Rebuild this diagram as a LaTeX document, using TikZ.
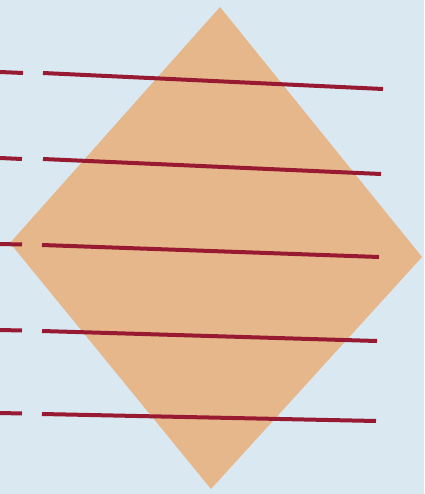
\documentclass[tikz,border=0pt]{standalone}
\begin{document}
\begin{tikzpicture}[x=1pt,y=-1pt]
\definecolor{bg}{RGB}{218,232,242}
\definecolor{tan}{RGB}{230,183,138}
\definecolor{redline}{RGB}{152,26,50}
\tikzset{rl/.style={draw=redline,line width=4pt}}
\useasboundingbox (0,0) rectangle (424,494);
\fill[bg] (0,0) rectangle (424,494);
\fill[tan] (220,7) -- (422,257) -- (211,489) -- (10,243) -- cycle;
\draw[rl] (0,72) -- (23,73);
\draw[rl] (43,73) -- (383,89);
\draw[rl] (0,158) -- (22,159);
\draw[rl] (43,159) -- (381,174);
\draw[rl] (0,244) -- (22,244.5);
\draw[rl] (42,245) -- (379,257);
\draw[rl] (0,330) -- (22,330.5);
\draw[rl] (42,331) -- (377,341);
\draw[rl] (0,413) -- (22,413.5);
\draw[rl] (42,414) -- (376,421);
\end{tikzpicture}
\end{document}
